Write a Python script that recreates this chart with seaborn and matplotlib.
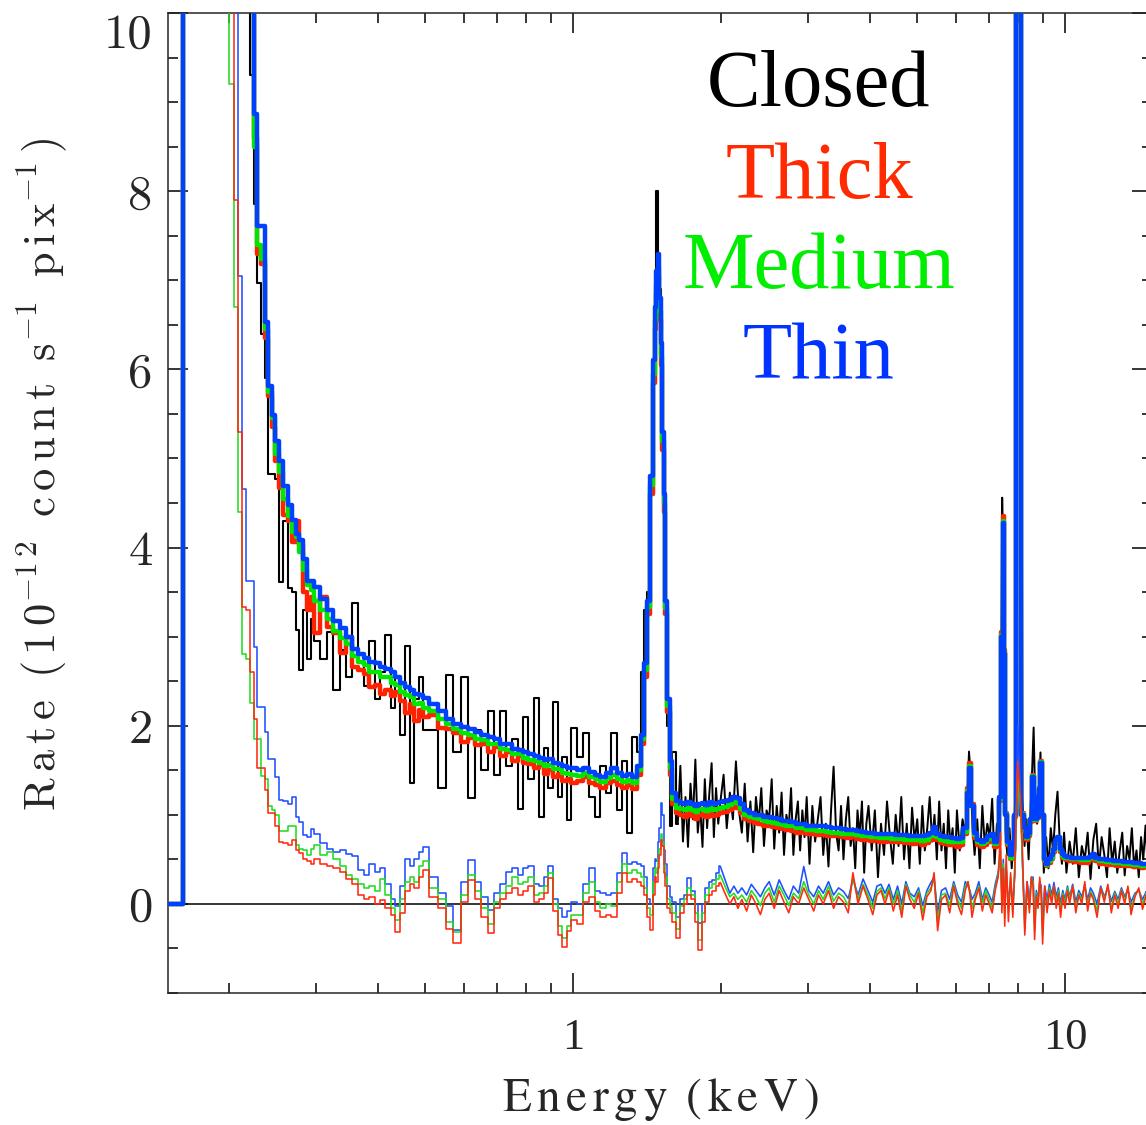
import numpy as np
import pandas as pd
import matplotlib
matplotlib.use("Agg")
import matplotlib.pyplot as plt
import seaborn as sns
from matplotlib.ticker import MultipleLocator, LogLocator, NullFormatter

nan = float("nan")

# ---------------- energy grid (keV) ----------------
energy_kev = [
    0.150, 0.172, 0.180, 0.190,
    0.198, 0.202, 0.206, 0.210, 0.214, 0.218, 0.222, 0.226, 0.230, 0.234, 0.238, 0.242, 0.246, 0.250,
    0.255, 0.260, 0.265, 0.270, 0.275, 0.280, 0.285, 0.290, 0.295, 0.300,
    0.31, 0.32, 0.33, 0.34, 0.35, 0.36, 0.37, 0.38, 0.39, 0.40, 0.41, 0.42, 0.43, 0.44, 0.45, 0.46, 0.47, 0.48, 0.49, 0.50,
    0.52, 0.54, 0.56, 0.58, 0.60, 0.62, 0.64, 0.66, 0.68, 0.70, 0.72, 0.74, 0.76, 0.78, 0.80, 0.82, 0.84, 0.86, 0.88, 0.90, 0.92, 0.94, 0.96, 0.98, 1.00,
    1.03, 1.06, 1.09, 1.12, 1.15, 1.18, 1.21, 1.24, 1.27, 1.30, 1.33,
    1.36, 1.38, 1.40, 1.42, 1.44, 1.46, 1.47, 1.48, 1.49, 1.50, 1.51, 1.52, 1.53, 1.545, 1.56, 1.58, 1.60, 1.63,
    1.66, 1.69, 1.72, 1.75, 1.78, 1.81, 1.84, 1.87, 1.90, 1.93, 1.96, 1.99,
    2.04, 2.08, 2.12, 2.16, 2.20, 2.25, 2.30, 2.35, 2.40, 2.45, 2.50, 2.56, 2.62, 2.68, 2.74, 2.80, 2.87, 2.94, 3.01, 3.08, 3.15, 3.22, 3.30, 3.38, 3.46, 3.54, 3.62, 3.70, 3.79, 3.88, 3.97,
    4.06, 4.14, 4.22, 4.30, 4.38, 4.47, 4.56, 4.65, 4.74, 4.83, 4.93, 5.03, 5.13, 5.23, 5.33, 5.41, 5.50, 5.60, 5.71, 5.82, 5.93, 6.04, 6.15, 6.26, 6.34, 6.40, 6.46, 6.56, 6.67, 6.78, 6.89, 7.00, 7.10, 7.20, 7.30,
    7.38, 7.43, 7.48, 7.53, 7.58, 7.66, 7.74, 7.82, 7.90, 8.00, 8.10, 8.18, 8.27, 8.36, 8.45, 8.53, 8.60, 8.66, 8.73, 8.80, 8.87, 8.93, 8.99,
    9.08, 9.18, 9.28, 9.38, 9.48, 9.58, 9.68, 9.78, 9.88, 9.98, 10.1, 10.2, 10.35, 10.5, 10.65, 10.8, 10.95, 11.1, 11.25, 11.4, 11.6, 11.8, 12.0, 12.2, 12.4, 12.6, 12.8, 13.0, 13.2, 13.4, 13.6, 13.85, 14.1, 14.35, 14.6, 14.85, 15.1,
]

# ---------------- Closed spectrum (black) ----------------
# below 1.63 keV it uses the first entries of energy_kev
closed_rate_low = [
    0, 15, 15, 15,
    15, 15, 15, 15, 15, 15, 9.3, 7.86, 6.97, 6.4, 5.9, 4.82, 4.82, 4.77,
    3.61, 4.30, 3.55, 3.50, 3.08, 2.62, 3.30, 2.75, 3.20, 2.95,
    2.75, 3.05, 2.40, 2.85, 2.55, 3.38, 2.70, 2.45, 2.95, 2.30, 2.60, 3.02, 2.20, 2.55, 1.90, 2.89, 1.36, 2.30, 2.55, 1.95,
    1.95, 1.30, 2.57, 1.70, 2.55, 1.19, 1.95, 1.50, 2.16, 1.45, 2.17, 1.55, 1.85, 1.06, 2.10, 1.40, 2.31, 0.98, 1.75, 1.30, 2.27, 1.20, 1.65, 0.94, 1.98,
    1.65, 1.92, 1.20, 0.97, 1.55, 1.25, 1.92, 1.05, 1.60, 0.80, 1.87,
    1.70, 2.60, 3.30, 3.50, 4.60, 5.90, 6.60, 8.00, 7.20, 6.90, 6.00, 5.20, 4.30, 3.30, 2.00, 0.87, 1.70, 0.90,
]
# above 1.63 keV the closed spectrum is finely binned
closed_energy_high = [
    1.63, 1.65, 1.67, 1.69, 1.71, 1.73, 1.75, 1.77, 1.79, 1.81, 1.83, 1.85, 1.87, 1.89, 1.91, 1.93, 1.95, 1.97, 1.99,
    2.02, 2.05, 2.08, 2.11, 2.14, 2.17, 2.20, 2.23, 2.26, 2.29, 2.32, 2.35, 2.38, 2.41, 2.44, 2.47, 2.50, 2.53, 2.56, 2.59, 2.62, 2.65, 2.68, 2.71, 2.74, 2.77, 2.80, 2.83, 2.86, 2.89, 2.92, 2.95, 2.98,
    3.02, 3.06, 3.10, 3.14, 3.18, 3.22, 3.26, 3.30, 3.34, 3.38, 3.42, 3.46, 3.50, 3.54, 3.58, 3.62, 3.66, 3.70, 3.74, 3.78, 3.82, 3.86, 3.90, 3.94, 3.98,
    4.04, 4.10, 4.16, 4.22, 4.28, 4.34, 4.40, 4.46, 4.52, 4.58, 4.64, 4.70, 4.76, 4.82, 4.88, 4.94, 5.00, 5.06, 5.12, 5.18, 5.24, 5.30, 5.36, 5.42, 5.48, 5.54, 5.60, 5.66, 5.72, 5.78, 5.84, 5.90, 5.96,
    6.02, 6.10, 6.18, 6.26, 6.32, 6.37, 6.42, 6.47, 6.54, 6.62, 6.70, 6.78, 6.86, 6.94, 7.02, 7.10, 7.18, 7.26, 7.34, 7.40, 7.44, 7.48, 7.52, 7.56, 7.62, 7.70, 7.78, 7.86, 7.92, 8.00, 8.10, 8.18,
    8.26, 8.34, 8.42, 8.50, 8.56, 8.62, 8.68, 8.76, 8.84, 8.90, 8.96, 9.04, 9.14, 9.24, 9.34, 9.44, 9.54, 9.64, 9.74, 9.84, 9.94,
    10.05, 10.2, 10.35, 10.5, 10.65, 10.8, 10.95, 11.1, 11.25, 11.4, 11.55, 11.7, 11.85, 12.0, 12.15, 12.3, 12.45, 12.6, 12.75, 12.9, 13.05, 13.2, 13.35, 13.5, 13.65, 13.8, 13.95, 14.1, 14.25, 14.4, 14.55, 14.7, 14.85, 15.0, 15.15,
]
closed_rate_high = [
    0.90, 1.55, 0.70, 1.20, 0.64, 1.35, 0.95, 1.62, 0.80, 1.10, 0.64, 1.40, 0.85, 1.25, 1.58, 0.75, 1.30, 0.90, 1.15,
    1.45, 0.85, 1.25, 0.95, 1.60, 1.05, 0.80, 1.35, 0.70, 1.15, 0.58, 1.20, 0.90, 1.30, 0.65, 1.05, 0.95, 1.40, 0.62, 1.10, 0.80, 1.25, 0.55, 1.00, 0.85, 1.30, 0.55, 0.95, 1.15, 0.60, 1.05, 0.75, 1.20,
    0.45, 1.10, 0.70, 0.95, 1.20, 0.55, 0.90, 0.42, 1.05, 1.54, 0.80, 0.60, 1.10, 0.50, 0.95, 1.20, 0.65, 0.85, 0.40, 1.05, 0.75, 1.15, 0.35, 0.90, 1.10,
    0.60, 1.05, 0.30, 0.90, 0.55, 1.15, 0.75, 0.45, 1.00, 0.65, 1.20, 0.50, 0.90, 0.40, 1.08, 0.70, 0.95, 0.45, 1.10, 0.60, 0.85, 1.20, 0.70, 1.00, 0.50, 1.15, 0.60, 0.90, 0.40, 1.05, 0.65, 0.85, 0.35,
    1.05, 0.60, 0.95, 0.80, 1.20, 1.71, 1.45, 0.90, 0.55, 0.95, 0.40, 1.10, 0.65, 0.90, 0.75, 1.18, 0.45, 0.90, 0.70, 2.00, 4.56, 3.80, 1.60, 0.80, 0.55, 0.85, 0.40, 0.75, 1.30, 15, 15, 1.20,
    0.65, 0.95, 0.50, 1.10, 1.50, 1.98, 1.20, 0.90, 1.25, 1.70, 1.10, 0.35, 0.75, 0.40, 0.85, 0.60, 1.00, 1.26, 0.70, 0.45, 0.80,
    0.35, 0.70, 0.45, 0.85, 0.30, 0.65, 0.50, 0.80, 0.28, 0.72, 0.90, 0.40, 0.75, 0.55, 0.30, 0.85, 0.45, 0.70, 0.35, 0.60, 0.80, 0.32, 0.65, 0.50, 0.85, 0.40, 0.60, 0.30, 0.75, 0.50, 0.88, 0.42, 0.65, 0.35, 0.55,
]

# ---------------- filter spectra (upper group) ----------------
thick_rate = [
    0, 15, 15, 15,
    15, 15, 15, 15, 15, 15, 15, 8.6, 7.3, 7.18, 6.35, 5.7, 5.35, 4.97,
    4.67, 4.37, 4.30, 4.06, 4.30, 4.03, 3.50, 3.30, 3.45, 3.04,
    3.45, 3.11, 3.04, 2.82, 3.00, 2.66, 2.62, 2.58, 2.44, 2.46, 2.36, 2.40, 2.33, 2.38, 2.28, 2.14, 2.24, 2.05, 2.18, 2.10,
    2.12, 1.98, 1.96, 1.92, 1.82, 1.86, 1.78, 1.80, 1.70, 1.76, 1.66, 1.70, 1.60, 1.66, 1.58, 1.57, 1.52, 1.56, 1.46, 1.50, 1.42, 1.46, 1.38, 1.40, 1.36,
    1.38, 1.42, 1.36, 1.33, 1.30, 1.36, 1.38, 1.34, 1.30, 1.33, 1.29,
    1.45, 1.80, 2.55, 3.25, 4.60, 5.85, 6.45, 6.85, 7.05, 6.55, 6.05, 5.10, 4.40, 3.25, 2.15, 1.45, 1.12, 1.02,
    1.00, 0.98, 1.02, 0.99, 0.95, 1.00, 1.01, 0.97, 1.03, 0.99, 1.00, 1.02,
    1.03, 1.05, 1.09, 1.08, 1.02, 0.95, 0.93, 0.91, 0.90, 0.88, 0.87, 0.86, 0.85, 0.84, 0.83, 0.82, 0.80, 0.81, 0.78, 0.79, 0.77, 0.78, 0.76, 0.76, 0.77, 0.75, 0.74, 0.75, 0.73, 0.72, 0.72,
    0.71, 0.72, 0.70, 0.70, 0.71, 0.70, 0.69, 0.70, 0.68, 0.69, 0.67, 0.70, 0.66, 0.68, 0.72, 0.80, 0.72, 0.68, 0.67, 0.66, 0.66, 0.64, 0.66, 0.78, 1.30, 1.58, 1.12, 0.74, 0.66, 0.64, 0.66, 0.70, 0.72, 0.64, 0.66,
    1.15, 3.05, 4.35, 2.85, 1.02, 0.66, 0.50, 0.58, 0.98, 15, 15, 1.02, 0.82, 0.72, 0.76, 0.92, 1.45, 1.22, 0.93, 0.96, 1.28, 1.60, 1.00,
    0.48, 0.42, 0.46, 0.50, 0.58, 0.68, 0.70, 0.58, 0.52, 0.50, 0.49, 0.48, 0.50, 0.47, 0.48, 0.46, 0.47, 0.46, 0.49, 0.55, 0.48, 0.45, 0.46, 0.44, 0.45, 0.44, 0.43, 0.44, 0.42, 0.43, 0.42, 0.41, 0.42, 0.40, 0.41, 0.40, 0.40,
]

medium_rate = [
    0, 15, 15, 15,
    15, 15, 15, 15, 15, 15, 15, 8.5, 7.4, 7.24, 6.45, 5.75, 5.45, 5.05,
    4.85, 4.55, 4.35, 4.18, 4.12, 3.95, 3.75, 3.58, 3.52, 3.40,
    3.30, 3.20, 3.06, 2.98, 2.92, 2.78, 2.72, 2.68, 2.60, 2.60, 2.55, 2.55, 2.48, 2.46, 2.38, 2.34, 2.32, 2.24, 2.26, 2.20,
    2.16, 2.07, 2.02, 1.96, 1.92, 1.90, 1.85, 1.84, 1.79, 1.79, 1.74, 1.73, 1.68, 1.68, 1.64, 1.62, 1.60, 1.58, 1.55, 1.56, 1.51, 1.51, 1.47, 1.46, 1.45,
    1.44, 1.47, 1.43, 1.40, 1.37, 1.41, 1.45, 1.40, 1.37, 1.39, 1.36,
    1.50, 1.85, 2.62, 3.33, 4.70, 5.95, 6.55, 6.95, 7.15, 6.65, 6.15, 5.20, 4.50, 3.32, 2.22, 1.52, 1.18, 1.08,
    1.06, 1.05, 1.08, 1.05, 1.03, 1.06, 1.07, 1.04, 1.08, 1.05, 1.06, 1.08,
    1.09, 1.11, 1.14, 1.13, 1.07, 1.00, 0.98, 0.96, 0.95, 0.93, 0.92, 0.91, 0.90, 0.89, 0.88, 0.87, 0.85, 0.85, 0.83, 0.83, 0.82, 0.82, 0.81, 0.80, 0.80, 0.79, 0.78, 0.78, 0.77, 0.76, 0.76,
    0.75, 0.75, 0.74, 0.74, 0.74, 0.73, 0.73, 0.73, 0.72, 0.72, 0.72, 0.72, 0.71, 0.72, 0.76, 0.83, 0.75, 0.72, 0.71, 0.70, 0.70, 0.69, 0.70, 0.81, 1.27, 1.55, 1.10, 0.77, 0.69, 0.67, 0.69, 0.73, 0.75, 0.67, 0.69,
    1.18, 3.02, 4.30, 2.82, 1.01, 0.68, 0.52, 0.60, 0.99, 15, 15, 1.01, 0.84, 0.74, 0.78, 0.94, 1.44, 1.21, 0.94, 0.97, 1.29, 1.59, 1.00,
    0.49, 0.44, 0.48, 0.52, 0.60, 0.70, 0.73, 0.60, 0.54, 0.52, 0.51, 0.51, 0.50, 0.50, 0.50, 0.49, 0.49, 0.49, 0.51, 0.55, 0.50, 0.48, 0.48, 0.47, 0.47, 0.46, 0.46, 0.46, 0.45, 0.45, 0.45, 0.44, 0.44, 0.43, 0.43, 0.42, 0.42,
]

thin_rate = [
    0, 15, 15, 15,
    15, 15, 15, 15, 15, 15, 15, 8.87, 7.61, 7.61, 6.53, 5.81, 5.49, 5.2,
    4.97, 4.69, 4.48, 4.31, 4.15, 4.09, 3.87, 3.62, 3.62, 3.56,
    3.42, 3.30, 3.17, 3.10, 3.00, 2.86, 2.80, 2.76, 2.72, 2.70, 2.66, 2.64, 2.60, 2.55, 2.48, 2.44, 2.40, 2.36, 2.34, 2.31,
    2.24, 2.16, 2.08, 2.02, 1.99, 1.96, 1.93, 1.90, 1.87, 1.85, 1.80, 1.79, 1.74, 1.73, 1.70, 1.68, 1.66, 1.64, 1.62, 1.63, 1.58, 1.57, 1.55, 1.53, 1.52,
    1.50, 1.53, 1.48, 1.45, 1.43, 1.47, 1.52, 1.47, 1.44, 1.46, 1.42,
    1.55, 1.90, 2.70, 3.40, 4.80, 6.10, 6.70, 7.10, 7.30, 6.80, 6.30, 5.30, 4.60, 3.40, 2.30, 1.60, 1.25, 1.15,
    1.13, 1.12, 1.14, 1.12, 1.10, 1.12, 1.13, 1.11, 1.14, 1.12, 1.13, 1.14,
    1.15, 1.17, 1.20, 1.19, 1.12, 1.05, 1.02, 1.00, 1.00, 0.98, 0.97, 0.96, 0.95, 0.93, 0.93, 0.92, 0.90, 0.90, 0.88, 0.88, 0.87, 0.87, 0.86, 0.85, 0.85, 0.84, 0.83, 0.83, 0.82, 0.81, 0.80,
    0.80, 0.79, 0.79, 0.78, 0.78, 0.78, 0.77, 0.77, 0.77, 0.76, 0.76, 0.76, 0.76, 0.77, 0.80, 0.86, 0.79, 0.76, 0.75, 0.75, 0.74, 0.73, 0.74, 0.85, 1.25, 1.53, 1.10, 0.80, 0.72, 0.70, 0.72, 0.76, 0.78, 0.70, 0.72,
    1.20, 3.00, 4.28, 2.80, 1.00, 0.70, 0.55, 0.62, 1.00, 15, 15, 1.00, 0.85, 0.75, 0.80, 0.95, 1.42, 1.20, 0.95, 0.98, 1.30, 1.58, 1.00,
    0.50, 0.45, 0.50, 0.55, 0.62, 0.72, 0.75, 0.62, 0.56, 0.54, 0.53, 0.53, 0.52, 0.52, 0.52, 0.51, 0.51, 0.51, 0.53, 0.56, 0.52, 0.50, 0.50, 0.49, 0.49, 0.48, 0.48, 0.48, 0.47, 0.47, 0.47, 0.46, 0.46, 0.45, 0.45, 0.44, 0.44,
]

# ---------------- residual spectra (lower group) ----------------
thick_resid = [
    nan, nan, nan, 15,
    15, 15, 7.9, 5.3, 3.33, 3.3, 2.6, 2.07, 1.53, 1.53, 1.28, 1.02, 1.02, 0.87,
    0.70, 0.68, 0.66, 0.72, 0.60, 0.57, 0.50, 0.48, 0.45, 0.50,
    0.45, 0.42, 0.40, 0.36, 0.28, 0.22, 0.10, 0.05, 0.08, 0.00, 0.04, -0.05, -0.12, -0.31, -0.10, 0.15, 0.22, 0.18, 0.30, 0.38,
    0.08, -0.05, -0.28, -0.44, 0.02, 0.27, 0.05, -0.15, -0.33, -0.05, 0.06, 0.12, 0.18, 0.10, 0.15, 0.20, 0.02, 0.05, 0.12, 0.29, -0.08, -0.35, -0.48, -0.30, -0.18,
    -0.22, 0.02, 0.08, -0.08, -0.15, -0.12, -0.15, 0.12, 0.35, 0.25, 0.28,
    0.25, 0.20, 0.10, -0.15, -0.29, 0.10, 0.30, 0.25, 0.40, 0.55, 0.72, 0.65, 0.35, 0.20, -0.05, -0.10, -0.20, -0.38,
    -0.10, 0.00, 0.10, 0.05, -0.20, -0.52, -0.20, 0.02, 0.10, 0.15, 0.20, 0.24,
    0.10, 0.00, 0.08, -0.05, 0.05, -0.08, 0.10, 0.00, -0.12, 0.05, 0.12, -0.05, 0.15, 0.02, -0.10, 0.08, 0.00, 0.18, 0.05, -0.08, 0.10, 0.00, 0.15, -0.05, 0.08, 0.02, -0.10, 0.35, 0.00, 0.20, 0.05,
    -0.12, 0.10, 0.15, 0.00, 0.15, -0.08, 0.10, -0.15, 0.20, 0.05, -0.05, 0.12, -0.18, 0.08, 0.15, 0.35, -0.30, 0.05, 0.10, -0.10, 0.20, 0.00, -0.12, 0.15, 0.25, 0.10, -0.15, 0.05, 0.18, -0.08, 0.10, 0.00, -0.10, 0.15, 0.30,
    0.80, -0.10, 0.40, -0.25, 0.55, -0.20, 0.35, -0.15, 0.50, 1.60, 1.20, 0.60, -0.35, 0.25, -0.10, 0.30, 0.20, -0.40, 0.10, -0.05, 0.30, 0.10, -0.45,
    0.20, -0.10, 0.15, 0.00, 0.20, -0.05, 0.12, -0.15, 0.10, -0.05, 0.15, 0.00, 0.20, -0.10, 0.10, 0.00, 0.25, -0.08, 0.12, 0.05, -0.15, 0.18, 0.02, 0.22, -0.10, 0.10, -0.05, 0.15, 0.00, 0.20, -0.12, 0.08, 0.18, -0.06, 0.10, 0.00, 0.05,
]

medium_resid = [
    nan, nan, nan, 15,
    15, 9.2, 6.7, 4.4, 2.8, 2.75, 2.26, 1.85, 1.85, 1.44, 1.40, 1.10, 1.05, 1.00,
    0.82, 0.82, 0.87, 0.88, 0.66, 0.62, 0.60, 0.55, 0.62, 0.66,
    0.55, 0.58, 0.50, 0.42, 0.32, 0.28, 0.22, 0.18, 0.20, 0.15, 0.28, 0.10, -0.05, -0.18, 0.05, 0.25, 0.30, 0.25, 0.42, 0.48,
    0.18, 0.05, -0.20, -0.32, 0.10, 0.32, 0.15, -0.05, -0.22, 0.02, 0.12, 0.20, 0.30, 0.22, 0.25, 0.30, 0.10, 0.12, 0.20, 0.35, 0.00, -0.25, -0.38, -0.25, -0.12,
    -0.12, 0.12, 0.25, 0.02, -0.05, 0.00, -0.02, 0.25, 0.45, 0.35, 0.38,
    0.35, 0.30, 0.18, -0.05, -0.12, 0.25, 0.40, 0.35, 0.50, 0.62, 0.78, 0.70, 0.45, 0.30, 0.05, -0.02, -0.10, -0.28,
    -0.02, 0.05, 0.18, 0.10, -0.10, -0.40, -0.10, 0.10, 0.18, 0.22, 0.28, 0.32,
    0.18, 0.08, 0.12, 0.05, 0.10, 0.02, 0.15, 0.08, -0.02, 0.12, 0.18, 0.02, 0.20, 0.10, -0.02, 0.12, 0.06, 0.25, 0.10, 0.00, 0.15, 0.05, 0.20, 0.03, 0.12, 0.08, -0.02, 0.30, 0.05, 0.22, 0.10,
    -0.05, 0.14, 0.18, 0.06, 0.18, 0.00, 0.15, -0.08, 0.22, 0.10, 0.02, 0.15, -0.10, 0.12, 0.18, 0.28, -0.20, 0.10, 0.12, -0.02, 0.22, 0.05, -0.05, 0.20, 0.25, 0.12, -0.05, 0.08, 0.20, 0.00, 0.15, 0.05, -0.05, 0.18, 0.32,
    0.60, 0.00, 0.45, -0.15, 0.45, -0.10, 0.30, -0.10, 0.40, 1.50, 1.10, 0.50, -0.30, 0.20, -0.05, 0.30, 0.25, -0.30, 0.12, 0.00, 0.25, 0.15, -0.35,
    0.15, -0.05, 0.18, 0.05, 0.20, 0.02, 0.15, -0.08, 0.12, 0.00, 0.18, 0.05, 0.20, -0.05, 0.12, 0.04, 0.22, -0.02, 0.14, 0.08, -0.08, 0.18, 0.05, 0.20, -0.05, 0.12, 0.00, 0.16, 0.04, 0.18, -0.06, 0.10, 0.16, 0.00, 0.12, 0.03, 0.08,
]

thin_resid = [
    nan, nan, nan, 15,
    15, 15, 15, 7.05, 4.66, 3.62, 3.62, 2.88, 2.21, 2.21, 1.93, 1.63, 1.63, 1.43,
    1.17, 1.15, 1.12, 1.20, 0.97, 0.92, 0.77, 0.75, 0.84, 0.78,
    0.68, 0.62, 0.58, 0.60, 0.56, 0.54, 0.38, 0.32, 0.45, 0.36, 0.40, 0.22, 0.05, -0.02, 0.20, 0.50, 0.42, 0.50, 0.58, 0.64,
    0.30, 0.12, -0.02, -0.29, 0.25, 0.49, 0.25, 0.08, -0.07, 0.12, 0.22, 0.36, 0.40, 0.33, 0.40, 0.42, 0.22, 0.20, 0.30, 0.43, 0.05, -0.05, -0.15, -0.08, 0.02,
    0.00, 0.22, 0.40, 0.14, 0.12, 0.10, 0.12, 0.35, 0.57, 0.45, 0.47,
    0.45, 0.42, 0.30, 0.05, 0.00, 0.40, 0.50, 0.48, 0.70, 0.85, 1.13, 1.00, 0.60, 0.45, 0.20, 0.08, 0.02, -0.15,
    0.05, 0.10, 0.29, 0.15, 0.00, -0.21, 0.00, 0.18, 0.25, 0.27, 0.35, 0.42,
    0.25, 0.12, 0.20, 0.12, 0.18, 0.10, 0.22, 0.15, 0.08, 0.18, 0.25, 0.10, 0.27, 0.15, 0.05, 0.20, 0.12, 0.42, 0.15, 0.08, 0.20, 0.12, 0.25, 0.10, 0.18, 0.14, 0.06, 0.28, 0.10, 0.28, 0.15,
    0.02, 0.20, 0.22, 0.12, 0.22, 0.05, 0.20, 0.00, 0.25, 0.12, 0.08, 0.18, -0.02, 0.15, 0.24, 0.30, -0.10, 0.15, 0.18, 0.05, 0.25, 0.10, 0.02, 0.25, 0.20, 0.15, 0.05, 0.12, 0.25, 0.05, 0.18, 0.10, 0.02, 0.22, 0.35,
    0.50, 0.10, 0.50, -0.05, 0.40, 0.00, 0.25, 0.00, 0.35, 2.00, 1.30, 0.45, -0.20, 0.25, 0.05, 0.30, 0.30, -0.20, 0.15, 0.05, 0.25, 0.20, -0.20,
    0.20, 0.05, 0.22, 0.10, 0.24, 0.08, 0.18, 0.00, 0.15, 0.05, 0.20, 0.08, 0.22, 0.02, 0.15, 0.08, 0.20, 0.05, 0.18, 0.12, 0.00, 0.20, 0.08, 0.18, 0.03, 0.14, 0.05, 0.18, 0.08, 0.16, 0.02, 0.12, 0.15, 0.05, 0.14, 0.06, 0.10,
]

legend_labels = ["Closed", "Thick", "Medium", "Thin"]
xtick_values = [1, 10]
xtick_labels = ["1", "10"]
ytick_values = [0, 2, 4, 6, 8, 10]
ytick_labels = ["0", "2", "4", "6", "8", "10"]

# ---------------- assemble ----------------
n_low = len(closed_rate_low)
if len(closed_energy_high) != len(closed_rate_high):
    raise ValueError("closed high-energy lists differ in length")

series_list = [
    ("thick", thick_rate), ("medium", medium_rate), ("thin", thin_rate),
    ("thin_res", thin_resid), ("medium_res", medium_resid), ("thick_res", thick_resid),
]
for name, vals in series_list:
    if len(vals) != len(energy_kev):
        raise ValueError(f"{name}: {len(vals)} vs {len(energy_kev)}")

sns.set_style("ticks")
plt.rcParams["font.family"] = ["Liberation Serif", "DejaVu Serif"]
plt.rcParams["mathtext.fontset"] = "cm"
plt.rcParams["axes.linewidth"] = 1.1

fig = plt.figure(figsize=(11.46, 11.25), dpi=100)
ax = fig.add_axes([168 / 1146, 1 - 993 / 1125, 984 / 1146, 980 / 1125])
ax.set_xscale("log")

# Closed (black): stepped histogram at low energy, finely binned spiky trace above
closed_low_df = pd.DataFrame({"energy": energy_kev[:n_low], "rate": closed_rate_low})
closed_high_df = pd.DataFrame({"energy": closed_energy_high, "rate": closed_rate_high})
sns.lineplot(data=closed_low_df, x="energy", y="rate", color="#000000", linewidth=1.5,
             drawstyle="steps-mid", estimator=None, sort=False, ax=ax, zorder=2)
sns.lineplot(data=closed_high_df, x="energy", y="rate", color="#000000", linewidth=1.4,
             estimator=None, sort=False, ax=ax, zorder=2)

styles = {
    "thick": ("#ff2200", 3.2, 3, None),
    "medium": ("#00e600", 3.2, 4, None),
    "thin": ("#0040ff", 3.2, 5, None),
    "thin_res": ("#1f4fff", 1.15, 6, 1.99),
    "medium_res": ("#22dd22", 1.15, 7, 1.99),
    "thick_res": ("#ff2a10", 1.15, 8, 1.99),
}

for name, vals in series_list:
    df = pd.DataFrame({"energy": energy_kev, "rate": vals}).dropna()
    color, lw, z, split = styles[name]
    if split is None:
        parts = [(df, "steps-mid")]
    else:
        parts = [(df[df["energy"] <= split], "steps-mid"), (df[df["energy"] >= split], "default")]
    for part, ds in parts:
        sns.lineplot(data=part, x="energy", y="rate", color=color, linewidth=lw,
                     drawstyle=ds, estimator=None, sort=False, ax=ax, zorder=z)

ax.axhline(0, color="black", lw=1.1, zorder=1.5)

ax.set_xlim(0.15, 15)
ax.set_ylim(-1, 10)

ax.set_xticks(xtick_values, labels=xtick_labels, fontsize=32)
ax.xaxis.set_minor_locator(LogLocator(base=10, subs=np.arange(2, 10)))
ax.xaxis.set_minor_formatter(NullFormatter())
ax.set_yticks(ytick_values, labels=ytick_labels, fontsize=35, fontfamily="cmr10")
ax.yaxis.set_minor_locator(MultipleLocator(0.5))
for lab in ax.get_yticklabels():
    if lab.get_text() == "10":
        lab.set_va("top")

ax.tick_params(which="both", direction="in", top=True, right=True, width=1.1, color="black")
ax.tick_params(which="major", length=14.4)
ax.tick_params(which="minor", length=7.2)
ax.tick_params(axis="x", which="major", pad=18)
ax.tick_params(axis="y", which="major", pad=11)

ax.set_xlabel(r"$\mathrm{E\,n\,e\,r\,g\,y\;\;(\,k\,e\,V\,)}$", fontsize=34, math_fontfamily="stix")
ax.xaxis.set_label_coords(0.5, -0.109)
ax.xaxis.label.set_va("center")

ax.set_ylabel(r"$\mathrm{R\,a\,t\,e\;\;(\,1\,0^{-1\,2}\;\;c\,o\,u\,n\,t\;\;s^{-1}\;\;p\,i\,x^{-1}\,)}$",
              fontsize=32, math_fontfamily="cm")
ax.yaxis.set_label_coords(-0.128, 0.529)
ax.yaxis.label.set_va("center")

legend_colors = ["#000000", "#ff2a00", "#00ee00", "#0033ff"]
legend_baselines = [106, 198, 288, 378]
for lab, col, base in zip(legend_labels, legend_colors, legend_baselines):
    fig.text(819 / 1146, 1 - base / 1125, lab, ha="center", va="baseline",
             fontsize=58, color=col, family="Liberation Serif")

fig.savefig("out.png", dpi=100)
